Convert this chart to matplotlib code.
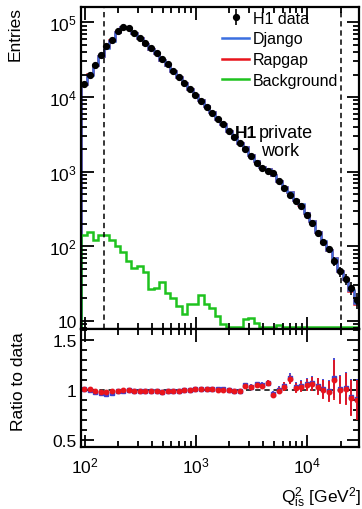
import numpy as np
import matplotlib
matplotlib.use("Agg")
import matplotlib.pyplot as plt
from matplotlib.ticker import FixedLocator, FuncFormatter, NullFormatter, MultipleLocator

plt.rcParams["font.family"] = ["Liberation Sans", "DejaVu Sans"]
plt.rcParams["mathtext.fontset"] = "custom"
plt.rcParams["mathtext.rm"] = "Liberation Sans"
plt.rcParams["mathtext.it"] = "Liberation Sans:italic"
plt.rcParams["mathtext.bf"] = "Liberation Sans:bold"

# binning in log10(Q^2): 50 bins
bin_edges = np.logspace(1.97, 4.47, 51)

data_counts = [14800, 20000, 27000, 36300, 47900, 58900, 75900, 87100, 85100, 72400,
               61700, 52500, 44700, 38900, 32400, 27500, 22400, 18600, 15500, 12900,
               10700, 8900, 7400, 6200, 5100, 4300, 3550, 2950, 2450, 2040,
               1620, 1320, 1120, 1020, 955, 760, 600, 480, 410, 350,
               265, 205, 150, 115, 91, 63, 46, 36, 27.5, 19]

background = [143, 155, 123, 143, 140, 120, 100, 83, 63, 51,
              55, 45, 27, 28, 33, 24, 20, 16, 12.3, 17,
              17, 22, 17, 15, 11.5, 9.2, 0, 0, 0, 10.5,
              11, 9.5, 0, 0, 0, 8.7, 0, 0, 0, 0,
              0, 0, 0, 0, 0, 0, 0, 0, 0, 0]

ratio_rapgap = [1.01, 1.005, 0.99, 0.98, 0.98, 0.985, 0.99, 0.995, 0.995, 0.99,
                0.99, 0.99, 0.985, 0.985, 0.98, 0.985, 0.99, 0.99, 0.995, 1.0,
                1.005, 1.01, 1.01, 1.005, 1.0, 1.0, 0.997, 0.987, 0.987, 1.04,
                1.027, 1.05, 1.04, 1.067, 0.95, 0.993, 1.033, 1.107, 1.017, 1.033,
                1.05, 1.06, 1.033, 1.0, 0.983, 1.1, 1.0, 1.007, 0.917, 0.9]

ratio_django = [1.01, 1.0, 0.98, 0.965, 0.96, 0.97, 0.985, 0.99, 0.995, 0.99,
                0.99, 0.99, 0.985, 0.985, 0.98, 0.985, 0.99, 0.99, 0.995, 1.0,
                1.005, 1.01, 1.01, 1.01, 1.005, 1.005, 1.0, 0.99, 0.99, 1.045,
                1.03, 1.055, 1.045, 1.07, 0.955, 1.0, 1.04, 1.12, 1.025, 1.04,
                1.06, 1.07, 1.04, 1.01, 0.99, 1.12, 1.01, 1.02, 0.93, 0.91]

ratio_err = [0.006, 0.006, 0.005, 0.005, 0.005, 0.005, 0.005, 0.005, 0.005, 0.005,
             0.005, 0.005, 0.006, 0.006, 0.006, 0.007, 0.007, 0.008, 0.008, 0.009,
             0.01, 0.011, 0.012, 0.013, 0.014, 0.016, 0.017, 0.019, 0.02, 0.022,
             0.025, 0.027, 0.03, 0.032, 0.033, 0.037, 0.042, 0.047, 0.05, 0.055,
             0.062, 0.07, 0.082, 0.095, 0.105, 0.2, 0.14, 0.16, 0.18, 0.2]

cuts = [150, 20000]

data_counts = np.array(data_counts, dtype=float)
centers = np.sqrt(bin_edges[:-1] * bin_edges[1:])
django = data_counts * np.array(ratio_django)
rapgap = data_counts * np.array(ratio_rapgap)
ymin = 7.8
bkg = np.clip(np.array(background, dtype=float), ymin * 1.05, None)

fig = plt.figure(figsize=(3.62, 5.10), dpi=100)
ax = fig.add_axes([0.225, 0.353, 0.768, 0.631])
axr = fig.add_axes([0.225, 0.1216, 0.768, 0.2314], sharex=ax)

lw = 1.8
ax.stairs(rapgap, bin_edges, baseline=1e-3, color="#e8141c", lw=lw, label="Rapgap")
ax.stairs(django, bin_edges, baseline=1e-3, color="#3b6fe0", lw=lw, label="Django")
ax.stairs(bkg, bin_edges, baseline=1e-3, color="#1fc21f", lw=lw, label="Background")
ax.errorbar(centers, data_counts, yerr=np.sqrt(data_counts), fmt="o", color="black",
            ms=4.2, elinewidth=1.2, capsize=0, label="H1 data", zorder=5)
for c in cuts:
    ax.axvline(c, color="black", ls=(0, (3.5, 2.5)), lw=1.1)

ax.set_xscale("log")
ax.set_yscale("log")
ax.set_xlim(10 ** 1.97, 10 ** 4.47)
ax.set_ylim(ymin, 1.6e5)


def ylog_fmt(v, pos):
    if abs(v - 10) < 1e-6:
        return "10"
    return r"$\mathdefault{10^{%d}}$" % int(round(np.log10(v)))


ax.yaxis.set_major_locator(FixedLocator([10, 100, 1e3, 1e4, 1e5]))
ax.yaxis.set_major_formatter(FuncFormatter(ylog_fmt))
ax.yaxis.set_minor_formatter(NullFormatter())
ax.tick_params(axis="x", labelbottom=False)

handles, labels = ax.get_legend_handles_labels()
order = [labels.index(n) for n in ["H1 data", "Django", "Rapgap", "Background"]]
ax.legend([handles[i] for i in order], [labels[i] for i in order], loc="upper left",
          bbox_to_anchor=(0.5, 0.994), frameon=False, fontsize=11.5, handlelength=1.7,
          handletextpad=0.25, labelspacing=0.36, borderaxespad=0.0, borderpad=0.1)

ax.text(0.632, 0.612, "H1", transform=ax.transAxes, fontsize=12.5, fontweight="bold",
        ha="right", va="center")
ax.text(0.638, 0.612, "private", transform=ax.transAxes, fontsize=13, ha="left",
        va="center")
ax.text(0.714, 0.555, "work", transform=ax.transAxes, fontsize=13, ha="center",
        va="center")

# ratio panel
axr.errorbar(centers, ratio_django, yerr=ratio_err, fmt="s", color="#3b3fd0", ms=2.5,
             elinewidth=1.3, capsize=0)
axr.errorbar(centers, ratio_rapgap, yerr=ratio_err, fmt="o", color="#e8141c", ms=3.2,
             elinewidth=1.3, capsize=0)
axr.axhline(1.0, color="black", ls=(0, (3.5, 2.5)), lw=1.1, zorder=0)
axr.set_ylim(0.43, 1.61)
axr.yaxis.set_major_locator(FixedLocator([0.5, 1.0, 1.5]))
axr.yaxis.set_major_formatter(FuncFormatter(lambda v, p: "%g" % v))
axr.yaxis.set_minor_locator(MultipleLocator(0.1))
axr.xaxis.set_major_formatter(FuncFormatter(
    lambda v, p: r"$\mathdefault{10^{%d}}$" % int(round(np.log10(v)))))

for a in (ax, axr):
    for s in a.spines.values():
        s.set_linewidth(1.6)
    a.tick_params(which="both", direction="in", top=True, right=True, labelsize=12.5,
                  width=1.3)
    a.tick_params(which="major", length=9)
    a.tick_params(which="minor", length=4.5)
    a.tick_params(axis="x", which="major", pad=6)

fig.text(0.042, 0.986, "Entries", rotation=90, ha="center", va="top", fontsize=12.5)
fig.text(0.05, 0.251, "Ratio to data", rotation=90, ha="center", va="center",
         fontsize=12.5)
fig.text(0.997, 0.024, r"Q$^2_{\mathdefault{is}}$ [GeV$^2$]", ha="right", va="center",
         fontsize=12.5)

fig.savefig("out.png", dpi=100)
